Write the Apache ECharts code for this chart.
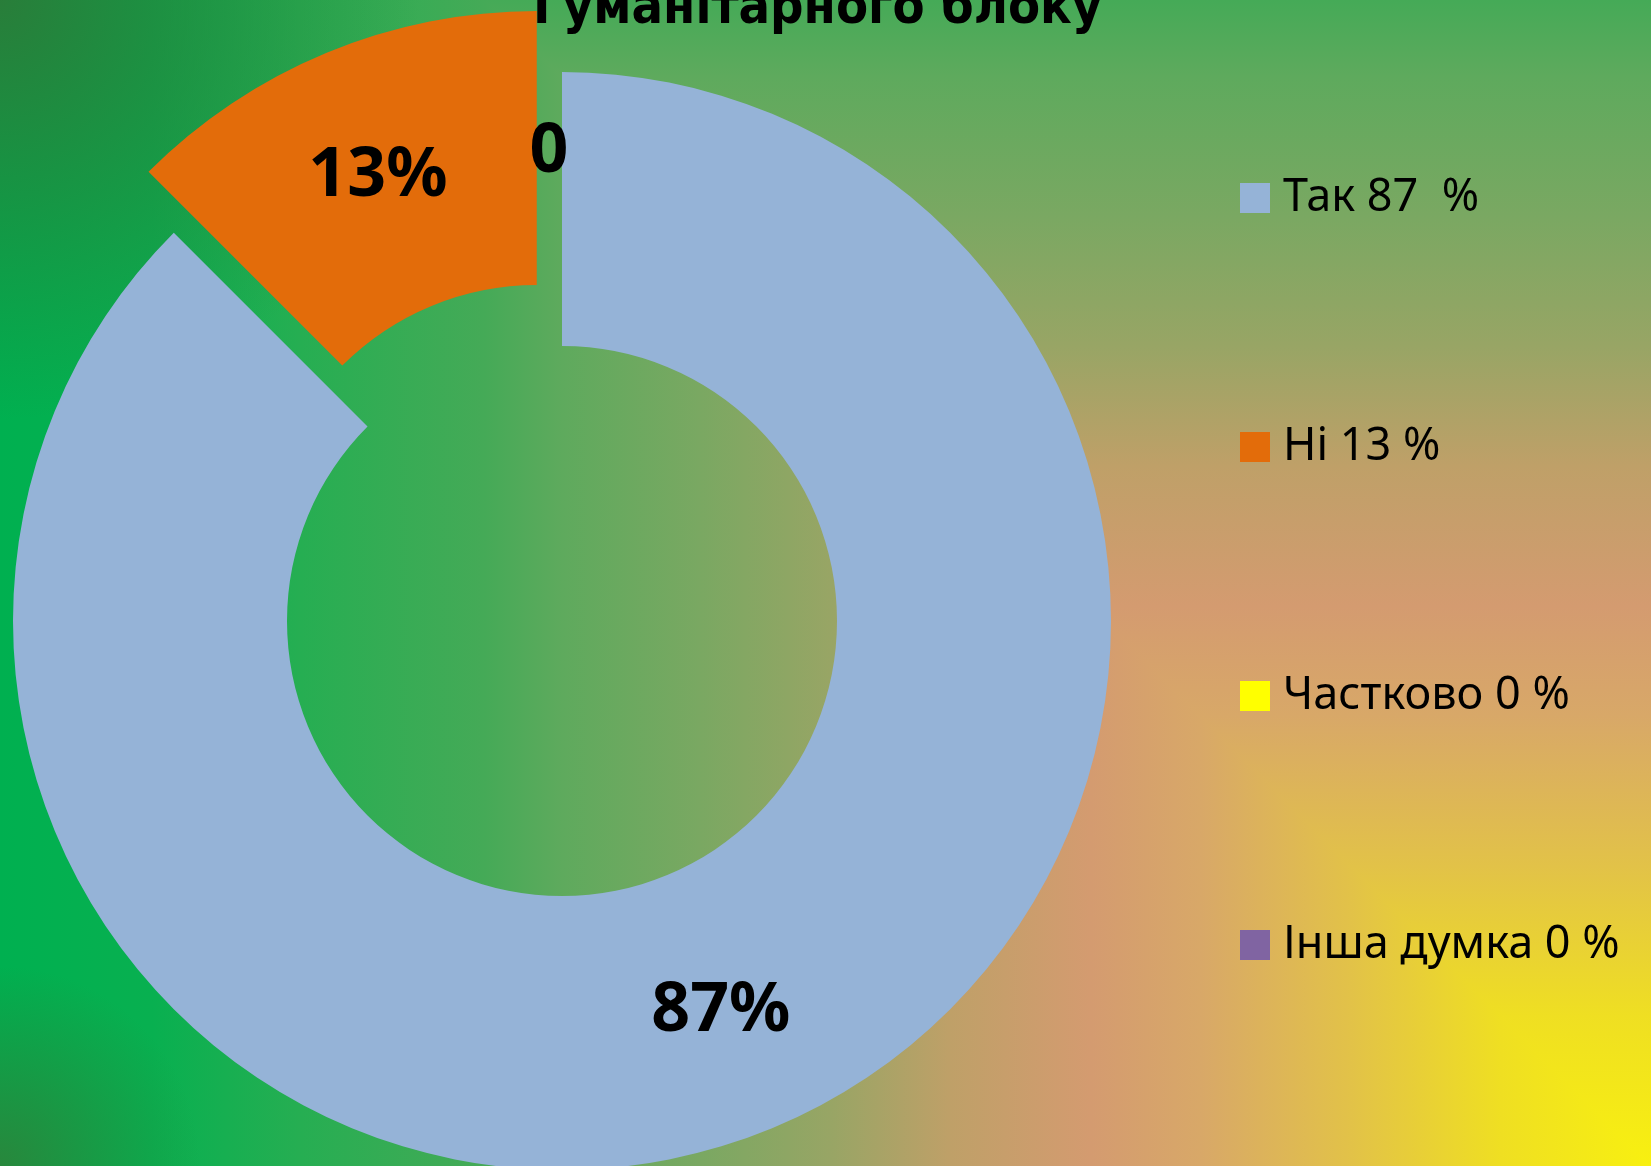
<!DOCTYPE html>
<html>
<head>
<meta charset="utf-8">
<script src="https://cdn.jsdelivr.net/npm/echarts@6/dist/echarts.min.js"></script>
<style>
  html, body { margin: 0; padding: 0; }
  #chart { width: 1651px; height: 1166px; }
</style>
</head>
<body>
<div id="chart"></div>
<script>
// дані
const titleText = "Гуманітарного блоку";
const categories = ["Так", "Ні", "Частково", "Інша думка"];
const values = [87.5, 12.5, 0, 0];
const sliceLabels = ["87%", "13%", "0", "0"];
const legendLabels = ["Так 87  %", "Ні 13 %", "Частково 0 %", "Інша думка 0 %"];
const colors = ["#95b3d7", "#e36c0a", "#ffff00", "#8064a2"];

// фон: колір залежно від відстані (px) від правого нижнього кута
const bgStops = [
  [0, "#f8f010"], [150, "#efdf22"], [300, "#e2c248"], [450, "#d8a868"],
  [560, "#d49b70"], [700, "#bfa068"], [820, "#98a565"], [950, "#7aa862"],
  [1090, "#5eaa5d"], [1166, "#45aa57"], [1350, "#26ae52"], [1500, "#08b050"],
  [1651, "#00b050"],
];
const W = 1651, H = 1166;

function stopsFor(len) {
  return bgStops.filter((s) => s[0] <= len).map((s) => ({ offset: s[0] / len, color: s[1] }));
}

const chart = echarts.init(document.getElementById("chart"));

const seriesData = categories.map((name, i) => {
  const item = { name: name, value: values[i], itemStyle: { color: colors[i] } };
  if (i === 1) {
    item.selected = true;
    item.label = { offset: [2, 14] };
  }
  if (i === 2) item.label = { offset: [-13, -53] };
  if (i === 3) item.label = { show: false };
  return item;
});

chart.setOption({
  animation: false,
  backgroundColor: "#00b050",
  graphic: [
    {
      type: "rect",
      z: -10,
      silent: true,
      shape: { x: 0, y: 0, width: W, height: H },
      style: {
        fill: { type: "linear", x: W, y: 0, x2: 0, y2: 0, global: true, colorStops: stopsFor(W) },
      },
    },
    {
      type: "polygon",
      z: -10,
      silent: true,
      shape: { points: [[W, H], [W - H, 0], [W, 0]] },
      style: {
        fill: { type: "linear", x: 0, y: H, x2: 0, y2: 0, global: true, colorStops: stopsFor(H) },
      },
    },
    {
      type: "rect",
      z: -9,
      silent: true,
      shape: { x: 0, y: 0, width: 420, height: 420 },
      style: {
        fill: {
          type: "radial", x: 0, y: 0, r: 420, global: true,
          colorStops: [
            { offset: 0, color: "rgba(45,120,55,0.9)" },
            { offset: 1, color: "rgba(45,120,55,0)" },
          ],
        },
      },
    },
    {
      type: "rect",
      z: -9,
      silent: true,
      shape: { x: 0, y: H - 200, width: 200, height: 200 },
      style: {
        fill: {
          type: "radial", x: 0, y: H, r: 200, global: true,
          colorStops: [
            { offset: 0, color: "rgba(50,125,55,0.8)" },
            { offset: 1, color: "rgba(50,125,55,0)" },
          ],
        },
      },
    },
  ],
  title: {
    text: titleText,
    left: 533,
    top: -17,
    padding: 0,
    textStyle: {
      fontFamily: "'Liberation Sans Narrow', 'DejaVu Sans Condensed', sans-serif",
      fontWeight: "bold",
      fontSize: 52,
      color: "#000",
    },
  },
  legend: {
    orient: "vertical",
    left: 1235,
    top: 165,
    itemWidth: 30,
    itemHeight: 30,
    itemGap: 193,
    icon: "rect",
    selectedMode: false,
    data: categories,
    formatter: (name) => legendLabels[categories.indexOf(name)],
    textStyle: {
      fontFamily: "'Noto Sans', sans-serif",
      fontSize: 45,
      lineHeight: 56,
      color: "#000",
      padding: [0, 0, 0, 8],
    },
  },
  series: [
    {
      type: "pie",
      center: [562, 621],
      radius: [275, 549],
      startAngle: 90,
      clockwise: true,
      selectedMode: "single",
      selectedOffset: 66,
      avoidLabelOverlap: false,
      emphasis: { disabled: true },
      label: {
        show: true,
        position: "inside",
        offset: [0, 7],
        fontFamily: "'Noto Sans', sans-serif",
        fontWeight: "bold",
        fontSize: 68,
        color: "#000",
        formatter: (p) => sliceLabels[p.dataIndex],
      },
      labelLine: { show: false },
      data: seriesData,
    },
  ],
});
</script>
</body>
</html>
